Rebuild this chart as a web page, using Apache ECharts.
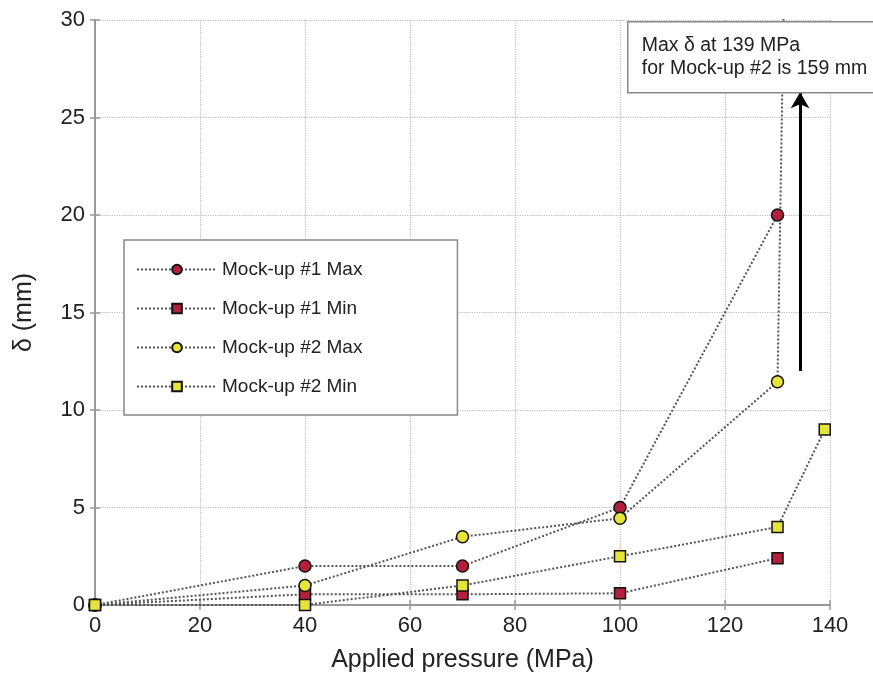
<!DOCTYPE html>
<html>
<head>
<meta charset="utf-8">
<script src="https://cdn.jsdelivr.net/npm/echarts@6/dist/echarts.min.js"></script>
<style>
html,body{margin:0;padding:0;background:#fff;}
#chart{width:873px;height:675px;}
</style>
</head>
<body>
<div id="chart"></div>
<script>
// ---- data ----
var pressure1 = [0, 40, 70, 100, 130];
var pressure2 = [0, 40, 70, 100, 130, 139];
var mock1Max = [0, 2, 2, 5, 20];
var mock1Min = [0, 0.55, 0.55, 0.6, 2.4];
var mock2Max = [0, 1, 3.5, 4.45, 11.45, 159];
var mock2Min = [0, 0, 1, 2.5, 4, 9];
var seriesNames = ['Mock-up #1 Max', 'Mock-up #1 Min', 'Mock-up #2 Max', 'Mock-up #2 Min'];
var xTicks = [0, 20, 40, 60, 80, 100, 120, 140];
var yTicks = [0, 5, 10, 15, 20, 25, 30];
var arrowX = 134.3, arrowFrom = 12, arrowTo = 26.3;
var noteLines = ['Max \u03b4 at 139 MPa', 'for Mock-up #2 is 159 mm'];
var xTitle = 'Applied pressure (MPa)';
var yTitle = '\u03b4 (mm)';

function pairs(xs, ys){ return ys.map(function(v,i){ return [xs[i], v]; }); }

var FONT = '"Liberation Sans", Arial, Helvetica, sans-serif';
var RED = '#b3203b', YEL = '#e6e43a';
var lineSty = {type:'dotted', width:2, color:'#555'};

function mkSeries(name, xs, ys, symbol, color, size){
  return {
    name: name, type:'line', data: pairs(xs, ys),
    symbol: symbol, symbolSize: size, showAllSymbol:true,
    lineStyle: lineSty,
    itemStyle: {color: color, borderColor:'#111', borderWidth:1.5},
    emphasis:{disabled:true}, animation:false, clip:true
  };
}

var chart = echarts.init(document.getElementById('chart'), null, {renderer:'canvas'});
var series = [
  mkSeries(seriesNames[0], pressure1, mock1Max, 'circle', RED, 12),
  mkSeries(seriesNames[1], pressure1, mock1Min, 'rect', RED, 11),
  mkSeries(seriesNames[2], pressure2, mock2Max, 'circle', YEL, 12),
  mkSeries(seriesNames[3], pressure2, mock2Min, 'rect', YEL, 11)
];
series[0].markLine = {
  silent:true, animation:false,
  symbol:['none','arrow'], symbolSize:[14,16],
  lineStyle:{type:'solid', color:'#000', width:3},
  label:{show:false},
  data:[[{coord:[arrowX, arrowFrom]},{coord:[arrowX, arrowTo]}]]
};

var axisLine = {show:true, lineStyle:{color:'#999', width:2}};
chart.setOption({
  backgroundColor:'#fff',
  animation:false,
  textStyle:{fontFamily:FONT},
  grid:{left:95, right:43, top:20, bottom:70, containLabel:false, outerBoundsMode:'none'},
  legend:{
    orient:'vertical', left:124, top:240,
    data: seriesNames,
    itemWidth:80, itemHeight:12, itemGap:20,
    padding:[20, 95, 19, 12],
    backgroundColor:'#fff', borderColor:'#888', borderWidth:1.5,
    textStyle:{fontFamily:FONT, fontSize:19, color:'#222'},
    selectedMode:false
  },
  xAxis:[{
    type:'value', min:0, max:140, interval:20,
    name:xTitle, nameLocation:'middle', nameGap:43,
    nameTextStyle:{fontSize:25, color:'#222', fontFamily:FONT},
    axisLine:axisLine,
    axisTick:{show:true, inside:true, length:5, lineStyle:{color:'#999', width:1.5}},
    axisLabel:{fontSize:22, color:'#222', margin:10, fontFamily:FONT,
      formatter:function(v){ return xTicks.indexOf(v)>=0 ? String(v) : ''; }},
    splitLine:{show:true, lineStyle:{type:'dotted', color:'#bbb', width:1.2}}
  },{
    type:'value', position:'top', min:0, max:140, interval:20,
    axisLine:axisLine, axisLabel:{show:false},
    axisTick:{show:true, inside:true, length:5, lineStyle:{color:'#999', width:1.5}},
    splitLine:{show:false}
  }],
  yAxis:[{
    type:'value', min:0, max:30, interval:5,
    name:yTitle, nameLocation:'middle', nameGap:58, nameRotate:90,
    nameTextStyle:{fontSize:25, color:'#222', fontFamily:FONT},
    axisLine:axisLine,
    axisTick:{show:true, inside:true, length:5, lineStyle:{color:'#999', width:1.5}},
    axisLabel:{fontSize:22, color:'#222', margin:10, fontFamily:FONT,
      formatter:function(v){ return yTicks.indexOf(v)>=0 ? String(v) : ''; }},
    splitLine:{show:true, lineStyle:{type:'dotted', color:'#bbb', width:1.2}}
  },{
    type:'value', position:'right', min:0, max:30, interval:5,
    axisLine:axisLine, axisLabel:{show:false},
    axisTick:{show:true, inside:true, length:5, lineStyle:{color:'#999', width:1.5}},
    splitLine:{show:false}
  }],
  series: series,
  graphic:[{
    type:'group', left:627, top:21, z:100, zlevel:1,
    children:[{
      type:'rect', z:100, zlevel:1, shape:{x:0, y:0, width:260, height:71},
      style:{fill:'#fff', stroke:'#888', lineWidth:1.5}
    },{
      type:'text', z:101, zlevel:1, x:14, y:12,
      style:{text: noteLines.join('\n'), font:'19.5px ' + FONT, fill:'#222', lineHeight:23}
    }]
  }]
});
</script>
</body>
</html>
